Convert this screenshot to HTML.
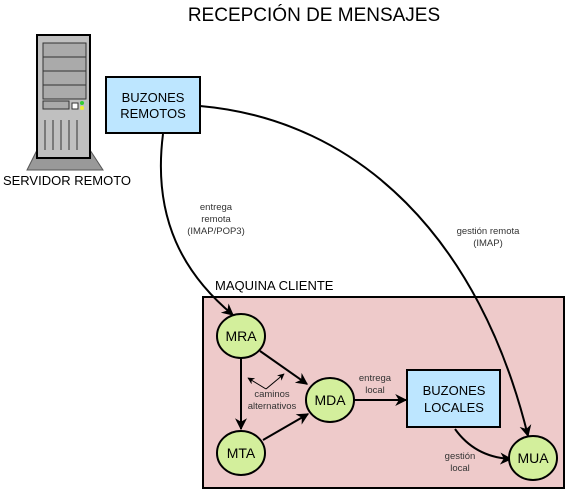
<!DOCTYPE html>
<html><head><meta charset="utf-8"><style>
html,body{margin:0;padding:0;background:#fff;}
svg{display:block;font-family:"Liberation Sans",sans-serif;}
</style></head><body>
<svg width="566" height="489" viewBox="0 0 566 489" xmlns="http://www.w3.org/2000/svg">
<defs>
<marker id="a" viewBox="0 0 10 10" refX="9" refY="5" markerWidth="7" markerHeight="7" markerUnits="userSpaceOnUse" orient="auto"><path d="M0,0 L10,5 L0,10 L3,5z" fill="#000"/></marker>
<marker id="b" viewBox="0 0 10 10" refX="9" refY="5" markerWidth="12" markerHeight="12" markerUnits="userSpaceOnUse" orient="auto"><path d="M0,0 L10,5 L0,10 L3,5z" fill="#000"/></marker>
</defs>
<text x="314" y="21" font-size="19" text-anchor="middle">RECEPCIÓN DE MENSAJES</text>
<!-- server -->
<polygon points="37,150 90,150 103,170 27,170" fill="#999" stroke="#555"/>
<rect x="37" y="35" width="53" height="123" fill="#c0c0c0" stroke="#000" stroke-width="2"/>
<rect x="43" y="43" width="43" height="14" fill="#aaa" stroke="#333"/>
<rect x="43" y="57" width="43" height="14" fill="#aaa" stroke="#333"/>
<rect x="43" y="71" width="43" height="14" fill="#aaa" stroke="#333"/>
<rect x="43" y="85" width="43" height="14" fill="#aaa" stroke="#333"/>
<rect x="43" y="101" width="26" height="8" fill="#aaa" stroke="#333"/>
<rect x="72" y="103" width="6" height="6" fill="#fff" stroke="#333"/>
<circle cx="82" cy="103" r="2" fill="#3c3"/><circle cx="82" cy="108" r="2" fill="#ee3"/>
<g stroke="#333"><line x1="45" y1="120" x2="45" y2="150"/><line x1="53" y1="120" x2="53" y2="150"/><line x1="61" y1="120" x2="61" y2="150"/><line x1="69" y1="120" x2="69" y2="150"/><line x1="77" y1="120" x2="77" y2="150"/></g>
<text x="67" y="185" font-size="13" text-anchor="middle">SERVIDOR REMOTO</text>
<!-- container -->
<rect x="203" y="297" width="361" height="191" fill="#eecaca" stroke="#000" stroke-width="2"/>
<text x="215" y="290" font-size="13">MAQUINA CLIENTE</text>
<!-- buzones remotos -->
<rect x="106" y="77" width="94" height="56" fill="#bde6ff" stroke="#000" stroke-width="2"/>
<text x="153" y="102" font-size="13" text-anchor="middle">BUZONES</text>
<text x="153" y="118" font-size="13" text-anchor="middle">REMOTOS</text>
<!-- curves -->
<path d="M163,134 C152,220 185,275 233,315" fill="none" stroke="#000" stroke-width="2" marker-end="url(#b)"/>
<path d="M200,106 C360,120 480,240 528,436" fill="none" stroke="#000" stroke-width="2" marker-end="url(#b)"/>
<g font-size="9.5" fill="#333" text-anchor="middle">
<text x="216" y="210">entrega</text><text x="216" y="222">remota</text><text x="216" y="234">(IMAP/POP3)</text>
<text x="488" y="234">gestión remota</text><text x="488" y="246">(IMAP)</text>
<text x="375" y="381">entrega</text><text x="375" y="393">local</text>
<text x="460" y="459">gestión</text><text x="460" y="471">local</text>
<text x="272" y="397">caminos</text><text x="272" y="409">alternativos</text>
</g>
<!-- inner arrows -->
<g stroke="#000" stroke-width="2" fill="none">
<line x1="241" y1="358" x2="241" y2="429" marker-end="url(#b)"/>
<line x1="260" y1="351" x2="307" y2="384" marker-end="url(#b)"/>
<line x1="263" y1="440" x2="308" y2="414" marker-end="url(#b)"/>
<line x1="353" y1="400" x2="406" y2="400" marker-end="url(#b)"/>
<path d="M455,429 C470,450 490,458 511,459" marker-end="url(#b)"/>
</g>
<g stroke="#000" stroke-width="1" fill="none">
<line x1="266" y1="389" x2="248" y2="378" marker-end="url(#a)"/>
<line x1="266" y1="389" x2="284" y2="374" marker-end="url(#a)"/>
</g>
<!-- nodes -->
<g fill="#d3ef9c" stroke="#000" stroke-width="2">
<ellipse cx="241" cy="336" rx="24" ry="22"/>
<ellipse cx="241" cy="453" rx="24" ry="22"/>
<ellipse cx="330" cy="400" rx="24" ry="22"/>
<ellipse cx="533" cy="458" rx="24" ry="22"/>
</g>
<g font-size="14" text-anchor="middle">
<text x="241" y="341">MRA</text><text x="241" y="458">MTA</text><text x="330" y="405">MDA</text><text x="533" y="463">MUA</text>
</g>
<rect x="407" y="370" width="93" height="57" fill="#bde6ff" stroke="#000" stroke-width="2"/>
<text x="454" y="395" font-size="13" text-anchor="middle">BUZONES</text>
<text x="454" y="412" font-size="13" text-anchor="middle">LOCALES</text>
</svg>
</body></html>
